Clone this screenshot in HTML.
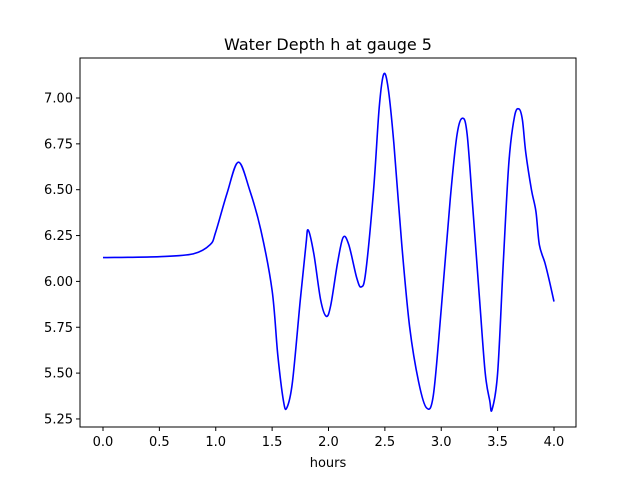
<!DOCTYPE html>
<html><head><meta charset="utf-8"><style>
body{margin:0;background:#fff;}
svg text{font-family:"DejaVu Sans","Liberation Sans",sans-serif;fill:#000;}
</style></head><body>
<svg id="chart" width="640" height="480" xmlns="http://www.w3.org/2000/svg">
<rect width="640" height="480" fill="#fff"/>
<text x="328" y="50" font-size="16" text-anchor="middle">Water Depth h at gauge 5</text>
<g id="ticks"></g>
<path id="line" fill="none" stroke="#0000ff" stroke-width="1.6"/>
<rect x="80" y="58" width="496" height="369" fill="none" stroke="#000" stroke-width="1"/>
<text x="328" y="467" font-size="13" text-anchor="middle">hours</text>
</svg>
<script>
const hours=[0,0.5,0.8,0.95,1.0,1.1,1.2,1.3,1.4,1.5,1.55,1.6,1.63,1.68,1.75,1.8,1.82,1.87,1.93,1.98,2.02,2.08,2.13,2.18,2.25,2.29,2.33,2.4,2.45,2.49,2.53,2.58,2.65,2.72,2.8,2.87,2.93,3.0,3.08,3.14,3.19,3.23,3.28,3.34,3.39,3.43,3.45,3.5,3.55,3.6,3.65,3.69,3.72,3.75,3.8,3.84,3.87,3.92,3.96,4.0];
const depth=[6.13,6.135,6.15,6.2,6.27,6.48,6.65,6.5,6.28,5.95,5.6,5.35,5.31,5.45,5.9,6.2,6.28,6.15,5.9,5.81,5.87,6.1,6.24,6.2,6.02,5.97,6.05,6.5,6.95,7.13,7.05,6.75,6.2,5.75,5.45,5.31,5.38,5.85,6.45,6.8,6.89,6.8,6.4,5.9,5.5,5.35,5.3,5.5,6.1,6.65,6.9,6.94,6.88,6.7,6.5,6.38,6.2,6.1,6.0,5.89];
const xTicks=[0,0.5,1.0,1.5,2.0,2.5,3.0,3.5,4.0];
const yTicks=[5.25,5.5,5.75,6.0,6.25,6.5,6.75,7.0];
const X=t=>103+t*112.75, Y=h=>98+(7-h)*183.4;
const NS="http://www.w3.org/2000/svg";
const g=document.getElementById('ticks');
function mk(tag,attrs,txt){const e=document.createElementNS(NS,tag);for(const k in attrs)e.setAttribute(k,attrs[k]);if(txt!==undefined)e.textContent=txt;g.appendChild(e);return e;}
xTicks.forEach(t=>{
 const l=mk('line',{x1:X(t),x2:X(t),y1:427,y2:431,stroke:'#000'});
 
 
 const s=mk('text',{x:X(t),y:446,'font-size':13,'text-anchor':'middle'},t.toFixed(1));
 
 
});
yTicks.forEach(v=>{
 const l=mk('line',{x1:76,x2:80,y1:Y(v),y2:Y(v),stroke:'#000'});
 
 
 const s=mk('text',{x:73,y:Y(v)+4.5,'font-size':13,'text-anchor':'end'},v.toFixed(2));
 
 
});
const P=hours.map((t,i)=>[X(t),Y(depth[i])]);
let d=`M${P[0][0]},${P[0][1]}`;
for(let i=0;i<P.length-1;i++){
 const p0=P[Math.max(0,i-1)],p1=P[i],p2=P[i+1],p3=P[Math.min(P.length-1,i+2)];
 const c1=[p1[0]+(p2[0]-p0[0])/6,p1[1]+(p2[1]-p0[1])/6];
 const c2=[p2[0]-(p3[0]-p1[0])/6,p2[1]-(p3[1]-p1[1])/6];
 d+=` C${c1[0]},${c1[1]} ${c2[0]},${c2[1]} ${p2[0]},${p2[1]}`;
}
document.getElementById('line').setAttribute('d',d);
</script>
</body></html>
